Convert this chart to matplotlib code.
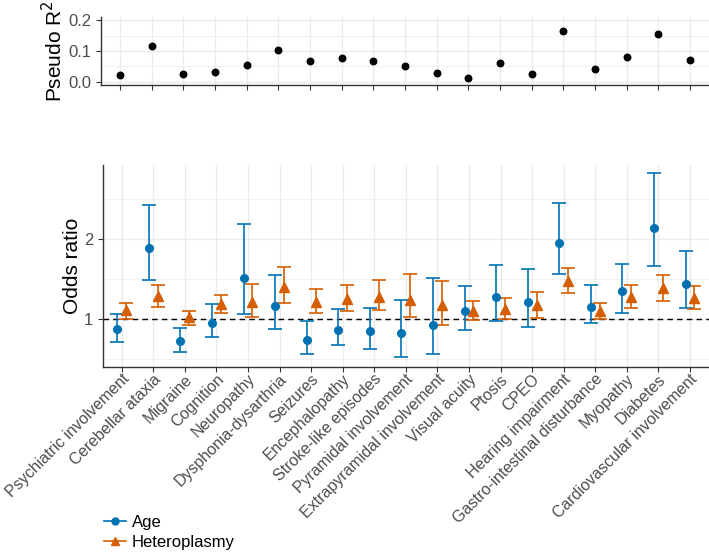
import matplotlib
matplotlib.use("Agg")
import matplotlib.pyplot as plt
from matplotlib.lines import Line2D
from matplotlib.transforms import ScaledTranslation
import numpy as np

plt.rcParams['font.family'] = ['Liberation Sans', 'DejaVu Sans']

categories = ["Psychiatric involvement", "Cerebellar ataxia", "Migraine", "Cognition",
              "Neuropathy", "Dysphonia-dysarthria", "Seizures", "Encephalopathy",
              "Stroke-like episodes", "Pyramidal involvement", "Extrapyramidal involvement",
              "Visual acuity", "Ptosis", "CPEO", "Hearing impairment",
              "Gastro-intestinal disturbance", "Myopathy", "Diabetes", "Cardiovascular involvement"]

pseudo_r2 = [0.021, 0.115, 0.026, 0.033, 0.053, 0.102, 0.066, 0.077, 0.068, 0.051,
             0.027, 0.011, 0.060, 0.025, 0.167, 0.042, 0.079, 0.155, 0.070]

age_or = [0.875, 1.883, 0.725, 0.954, 1.51, 1.16, 0.74, 0.867, 0.854, 0.82,
          0.92, 1.10, 1.27, 1.21, 1.946, 1.154, 1.346, 2.137, 1.44]
age_lo = [0.717, 1.483, 0.59, 0.775, 1.067, 0.88, 0.56, 0.67, 0.63, 0.52,
          0.567, 0.867, 0.97, 0.90, 1.567, 0.946, 1.08, 1.66, 1.137]
age_hi = [1.067, 2.42, 0.888, 1.19, 2.19, 1.55, 0.97, 1.12, 1.137, 1.24,
          1.51, 1.41, 1.67, 1.625, 2.45, 1.42, 1.69, 2.82, 1.85]

het_or = [1.11, 1.29, 1.02, 1.19, 1.21, 1.40, 1.21, 1.25, 1.28, 1.24,
          1.17, 1.10, 1.13, 1.17, 1.48, 1.10, 1.27, 1.39, 1.26]
het_lo = [1.0, 1.15, 0.92, 1.07, 1.025, 1.20, 1.07, 1.10, 1.11, 1.02,
          0.92, 0.983, 0.996, 1.01, 1.325, 1.004, 1.14, 1.23, 1.12]
het_hi = [1.20, 1.425, 1.10, 1.30, 1.44, 1.65, 1.37, 1.42, 1.49, 1.56,
          1.475, 1.225, 1.26, 1.34, 1.64, 1.20, 1.42, 1.55, 1.41]

blue = "#0072B2"
orange = "#D55E00"
grid_col = "#EBEBEB"
tick_col = "#4D4D4D"

x = np.arange(len(categories))

fig = plt.figure(figsize=(7.09, 5.52), dpi=100)
ax1 = fig.add_axes([0.1425, 0.8466, 0.8575, 0.1219])
ax2 = fig.add_axes([0.1449, 0.3351, 0.8551, 0.3660])


def style(ax):
    for s in ["top", "right"]:
        ax.spines[s].set_visible(False)
    for s in ["left", "bottom"]:
        ax.spines[s].set_color("#333333")
        ax.spines[s].set_linewidth(1.0)
    ax.tick_params(colors="#333333", labelcolor=tick_col, labelsize=12, length=3.5, width=0.8)
    ax.tick_params(which="minor", length=0)
    ax.grid(True, which="major", color=grid_col, lw=1.0)
    ax.grid(True, which="minor", axis="y", color=grid_col, lw=0.5)
    ax.set_axisbelow(True)
    ax.set_xlim(-0.6, len(categories) - 0.4)
    ax.set_xticks(x)


# top panel: pseudo R2
style(ax1)
ax1.scatter(x, pseudo_r2, s=22, color="black", zorder=3)
ax1.set_ylim(-0.01, 0.21)
ax1.set_yticks([0.0, 0.1, 0.2])
ax1.set_yticklabels(["0.0", "0.1", "0.2"])
ax1.set_yticks([0.05, 0.15], minor=True)
ax1.set_xticklabels([])
ax1.set_ylabel("Pseudo R$^2$", fontsize=15)
ax1.yaxis.set_label_coords(-0.058, 0.5)

# bottom panel: odds ratios
style(ax2)
d = 0.14
ax2.axhline(1, color="black", lw=1.0, ls=(0, (4, 3)), zorder=2)
ax2.errorbar(x - d, age_or, yerr=[np.subtract(age_or, age_lo), np.subtract(age_hi, age_or)],
             fmt="o", color=blue, ms=5.5, lw=1.2, capsize=5, capthick=1.2, zorder=3)
ax2.errorbar(x + d, het_or, yerr=[np.subtract(het_or, het_lo), np.subtract(het_hi, het_or)],
             fmt="^", color=orange, ms=6.5, lw=1.2, capsize=5, capthick=1.2, zorder=3)
ax2.set_ylim(0.4, 2.925)
ax2.set_yticks([1, 2])
ax2.set_yticks([0.5, 1.5, 2.5], minor=True)
ax2.set_xticklabels(categories, rotation=45, ha="right", va="center",
                    rotation_mode="anchor", fontsize=11.5)
shift = ScaledTranslation(5 / 100, 0, fig.dpi_scale_trans)
for lab in ax2.get_xticklabels():
    lab.set_transform(lab.get_transform() + shift)
ax2.set_ylabel("Odds ratio", fontsize=15)
ax2.yaxis.set_label_coords(-0.034, 0.5)

handles = [Line2D([], [], color=blue, marker="o", ms=5, lw=1.2),
           Line2D([], [], color=orange, marker="^", ms=6, lw=1.2)]
fig.legend(handles, ["Age", "Heteroplasmy"], loc="center left",
           bbox_to_anchor=(0.135, 0.036), frameon=False, fontsize=12,
           handlelength=1.3, handletextpad=0.35, labelspacing=0.3, borderpad=0)

fig.savefig("out.png", dpi=100)
